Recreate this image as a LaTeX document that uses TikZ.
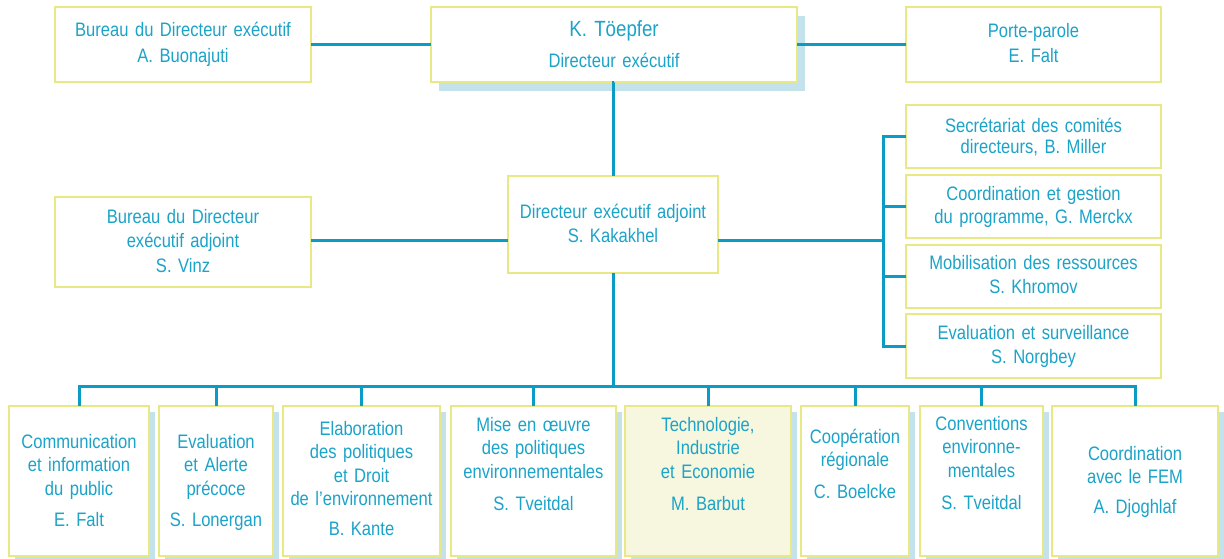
\documentclass[tikz,border=0pt]{standalone}
\usepackage{fontspec}
\setmainfont{Liberation Sans}[FakeStretch=0.85, WordSpace=0.8]
\usetikzlibrary{shadows}
\definecolor{txtc}{HTML}{1BA3C8}
\definecolor{linec}{HTML}{0A9CC4}
\definecolor{borderc}{HTML}{E8E884}
\definecolor{shadowc}{HTML}{C3E2EB}
\definecolor{hilite}{HTML}{F7F7DF}
\tikzset{
  box/.style={draw=borderc, line width=2pt, fill=white, inner sep=0pt, outer sep=0pt, rectangle},
  shbox/.style={box, drop shadow={shadow xshift=6pt, shadow yshift=-6pt, fill=shadowc, opacity=1}},
  txt/.style={text=txtc, align=center, text width=300pt, inner sep=0pt, anchor=base,
    font=\fontsize{19.5}{#1}\selectfont},
  txt/.default=23.5,
  conn/.style={draw=linec, line width=3pt, line join=miter},
}
\begin{document}
\begin{tikzpicture}[x=1pt, y=-1pt]
\useasboundingbox (0,0) rectangle (1224,558);
% top row
\node[box, minimum width=256pt, minimum height=75pt] (bde) at (183,44.5) {};
\node[box, minimum width=366pt, minimum height=75pt,
  drop shadow={shadow xshift=8pt, shadow yshift=-9pt, fill=shadowc, opacity=1}] (dg) at (614,44.5) {};
\node[box, minimum width=255pt, minimum height=75pt] (pp) at (1033.5,44.5) {};
% right column
\node[box, minimum width=255pt, minimum height=63pt] (r1) at (1033.5,136.5) {};
\node[box, minimum width=255pt, minimum height=63pt] (r2) at (1033.5,206.5) {};
\node[box, minimum width=255pt, minimum height=63pt] (r3) at (1033.5,276.5) {};
\node[box, minimum width=255pt, minimum height=64pt] (r4) at (1033.5,346) {};
% middle row
\node[box, minimum width=210pt, minimum height=97pt] (adj) at (613,224.5) {};
\node[box, minimum width=256pt, minimum height=90pt] (bda) at (183,242) {};
% bottom row
\node[shbox, minimum width=140pt, minimum height=150pt] (c1) at (79,481) {};
\node[shbox, minimum width=114pt, minimum height=150pt] (c2) at (216,481) {};
\node[shbox, minimum width=157pt, minimum height=150pt] (c3) at (361.5,481) {};
\node[shbox, minimum width=165pt, minimum height=150pt] (c4) at (533.5,481) {};
\node[shbox, fill=hilite, minimum width=166pt, minimum height=150pt] (c5) at (708,481) {};
\node[shbox, minimum width=108pt, minimum height=150pt] (c6) at (855,481) {};
\node[shbox, minimum width=123pt, minimum height=150pt] (c7) at (981.5,481) {};
\node[shbox, minimum width=166pt, minimum height=150pt] (c8) at (1135,481) {};
% helper coordinates
\coordinate (hl) at (0,240);
\coordinate (sp) at (883,240);
\coordinate (bus) at (613,386);
% connectors
\draw[conn] (bde.east) -- (dg.west);
\draw[conn] (dg.east) -- (pp.west);
\draw[conn] (dg.south) -- (dg.south -| adj.north) -- (adj.north);
\draw[conn] (bda.east |- hl) -- (adj.west |- hl);
\draw[conn] (adj.east |- hl) -- (sp);
\draw[conn] (r1.west) -| (sp |- r4.west) -- (r4.west);
\draw[conn] (r2.west) -- (sp |- r2.west);
\draw[conn] (r3.west) -- (sp |- r3.west);
\draw[conn] (adj.south) -- (bus);
\draw[conn] (c1.north) -- (c1.north |- bus) -- (c8.north |- bus) -- (c8.north);
\foreach \c in {c2,c3,c4,c5,c6,c7}{\draw[conn] (\c.north) -- (\c.north |- bus);}
% texts
\node[txt=26] (tbde) at (183,36) {Bureau du Directeur exécutif\\A. Buonajuti};
\node[txt, font=\fontsize{22}{25}\selectfont] (tdg1) at (614,36) {K. Töepfer};
\node[txt] (tdg2) at (614,67) {Directeur exécutif};
\node[txt=25] (tpp) at (1033.5,37) {Porte-parole\\E. Falt};
\node[txt=21.5] (tr1) at (1033.5,132) {Secrétariat des comités\\directeurs, B. Miller};
\node[txt=23] (tr2) at (1033.5,200) {Coordination et gestion\\du programme, G. Merckx};
\node[txt=24] (tr3) at (1033.5,269) {Mobilisation des ressources\\S. Khromov};
\node[txt=24] (tr4) at (1033.5,339) {Evaluation et surveillance\\S. Norgbey};
\node[txt=24] (tadj) at (613,218) {Directeur exécutif adjoint\\S. Kakakhel};
\node[txt=24.5] (tbda) at (183,223) {Bureau du Directeur\\exécutif adjoint\\S. Vinz};
\node[txt] (tc1) at (79,448) {Communication\\et information\\du public\\[8pt]E. Falt};
\node[txt] (tc2) at (216,448) {Evaluation\\et Alerte\\précoce\\[8pt]S. Lonergan};
\node[txt] (tc3) at (361.5,435) {Elaboration\\des politiques\\et Droit\\de l’environnement\\[6.5pt]B. Kante};
\node[txt] (tc4) at (533.5,431) {Mise en œuvre\\des politiques\\environnementales\\[8.5pt]S. Tveitdal};
\node[txt] (tc5) at (708,431) {Technologie,\\Industrie\\et Economie\\[8.5pt]M. Barbut};
\node[txt] (tc6) at (855,443) {Coopération\\régionale\\[8.5pt]C. Boelcke};
\node[txt] (tc7) at (981.5,430) {Conventions\\environne-\\mentales\\[8.5pt]S. Tveitdal};
\node[txt] (tc8) at (1135,460) {Coordination\\avec le FEM\\[6.5pt]A. Djoghlaf};
\end{tikzpicture}
\end{document}
